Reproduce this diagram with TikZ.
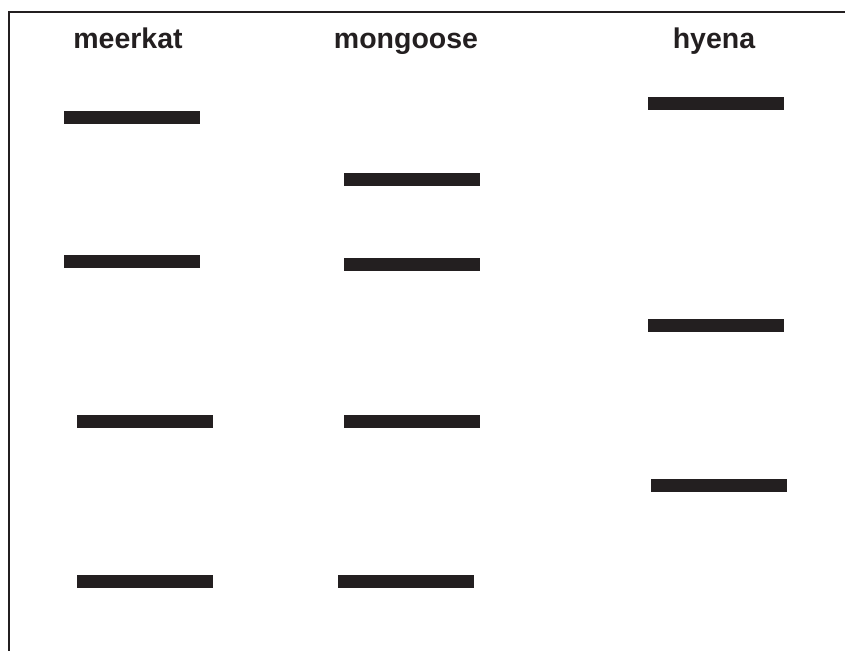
\documentclass[tikz,border=0pt]{standalone}
\usepackage{fontspec}
\setmainfont{Liberation Sans}
\definecolor{ink}{HTML}{231F20}
\begin{document}
\begin{tikzpicture}[x=1pt,y=-1pt,
  band/.style={fill=ink,draw=none,minimum width=136pt,minimum height=13pt,inner sep=0pt,outer sep=0pt},
  lane/.style={anchor=base,inner sep=0pt,text=ink,font=\fontsize{28.5}{30}\selectfont\bfseries},
  frame/.style={draw=ink,line width=2pt}]
\useasboundingbox (0,0) rectangle (845,650);
\coordinate (fb) at (9,651);
\coordinate (fc) at (9,12);
\coordinate (fr) at (846,12);
\draw[frame] (fb) -- (fc) -- (fr);
\node[lane] (lm) at (128,49) {meerkat};
\node[lane] (lg) at (406,49) {mongoose};
\node[lane] (lh) at (714,49) {hyena};
\node[band] (m1) at (132,117.5) {};
\node[band] (m2) at (132,261.5) {};
\node[band] (m3) at (145,421.5) {};
\node[band] (m4) at (145,581.5) {};
\node[band] (g1) at (412,179.5) {};
\node[band] (g2) at (412,264.5) {};
\node[band] (g3) at (412,421.5) {};
\node[band] (g4) at (406,581.5) {};
\node[band] (h1) at (716,103.5) {};
\node[band] (h2) at (716,325.5) {};
\node[band] (h3) at (719,485.5) {};
\end{tikzpicture}
\end{document}
